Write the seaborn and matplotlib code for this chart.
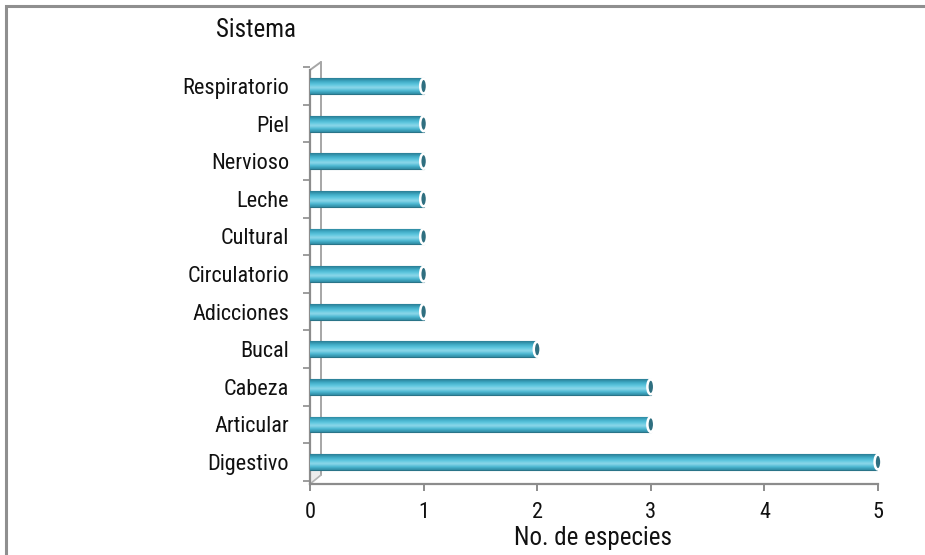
import numpy as np
import pandas as pd
import matplotlib
matplotlib.use("Agg")
import matplotlib.pyplot as plt
from matplotlib.patches import Ellipse, Rectangle
from matplotlib.colors import LinearSegmentedColormap
import seaborn as sns

# Número de especies por sistema (de arriba hacia abajo)
sistemas = ["Respiratorio", "Piel", "Nervioso", "Leche", "Cultural",
            "Circulatorio", "Adicciones", "Bucal", "Cabeza", "Articular",
            "Digestivo"]
especies = [1, 1, 1, 1, 1, 1, 1, 2, 3, 3, 5]
x_ticks = [0, 1, 2, 3, 4, 5]

df = pd.DataFrame({"Sistema": sistemas, "Especies": especies})

sns.set_theme(style="white")
plt.rcParams["font.family"] = ["Roboto Condensed", "Liberation Sans Narrow", "DejaVu Sans"]
plt.rcParams["font.stretch"] = "condensed"

W_PX, H_PX = 568, 422
fig = plt.figure(figsize=(9.25, 5.55), dpi=100)
ax = fig.add_axes([310 / 925, 1 - 484 / 555, W_PX / 925, H_PX / 555])

sns.barplot(data=df, x="Especies", y="Sistema", orient="h", order=sistemas,
            color="#45b5d0", width=0.42, saturation=1, ax=ax, zorder=3)

# Cylinder shading: vertical gradient clipped to each bar, plus an end cap
shade = LinearSegmentedColormap.from_list(
    "tubo", ["#2a7d94", "#3ea9c4", "#5cc6de", "#8ed8ea", "#4db9d3", "#2f8aa3"])
grad = np.linspace(0, 1, 64).reshape(-1, 1)
for bar in ax.patches:
    x0, y0 = bar.get_x(), bar.get_y()
    w, h = bar.get_width(), bar.get_height()
    bar.set_edgecolor("#2a7488")
    bar.set_linewidth(0.8)
    im = ax.imshow(grad, cmap=shade, aspect="auto", extent=(x0, x0 + w, y0 + h, y0),
                   origin="upper", zorder=3.5, interpolation="bicubic")
    im.set_clip_path(bar)
    cap = Ellipse((x0 + w, y0 + h / 2), width=0.06, height=h * 0.95,
                  facecolor="#2f6f80", edgecolor="white", linewidth=1.8,
                  zorder=4, clip_on=False)
    ax.add_patch(cap)

ax.set_xlim(0, 5)
ax.set_ylim(len(sistemas) - 1 + 0.585, -0.64)
ax.set_xticks(x_ticks)
ax.set_xticklabels([str(t) for t in x_ticks])
ax.set_yticks(range(len(sistemas)))
ax.set_yticklabels(sistemas)
ax.set_yticks(np.arange(len(sistemas) + 1) - 0.5, minor=True)

for side in ("top", "right"):
    ax.spines[side].set_visible(False)
for side in ("left", "bottom"):
    ax.spines[side].set_color("#8c8c8c")
    ax.spines[side].set_linewidth(1.6)
ax.spines["left"].set_bounds(len(sistemas) - 1 + 0.585, -0.43)

# Shallow side wall behind the category axis (axes-fraction coordinates)
dx, dy = 11 / W_PX, 9 / H_PX
front_top = 1 - 8 / H_PX
wall_kw = dict(transform=ax.transAxes, clip_on=False)
ax.fill([0, dx, dx, 0], [0, dy, 0.07, 0.07], color="#ededed", zorder=1, **wall_kw)
ax.plot([dx, dx], [dy, 1], color="#a6a6a6", lw=1.4, zorder=2, **wall_kw)
ax.plot([0, dx], [front_top, 1], color="#a6a6a6", lw=1.4, zorder=2, **wall_kw)
ax.plot([0, dx], [0, dy], color="#b4b4b4", lw=1.2, zorder=2, **wall_kw)

lab = 16
title_size = 18
ax.tick_params(axis="x", which="major", direction="out", length=5, width=1.4,
               color="#8c8c8c", pad=8, labelsize=lab, labelcolor="#111111",
               bottom=True)
ax.tick_params(axis="y", which="major", length=0, pad=15, labelsize=lab,
               labelcolor="#111111", left=True)
ax.tick_params(axis="y", which="minor", direction="out", length=5, width=1.2,
               color="#8c8c8c", left=True)

ax.set_xlabel("")
ax.set_ylabel("")
fig.text(256 / 925, 1 - 37 / 555, "Sistema", ha="center", va="baseline",
         fontsize=title_size, color="#111111")
fig.text(593 / 925, 1 - 545 / 555, "No. de especies", ha="center", va="baseline",
         fontsize=title_size, color="#111111")

# Outer chart frame (left and top edges visible)
fig.patches.append(Rectangle((6 / 925, -0.2), 1.2, 1.2 - 6 / 555,
                             transform=fig.transFigure, fill=False,
                             edgecolor="#8f8f8f", linewidth=2.2, zorder=0))

fig.savefig("out.png", dpi=100, facecolor="white")
